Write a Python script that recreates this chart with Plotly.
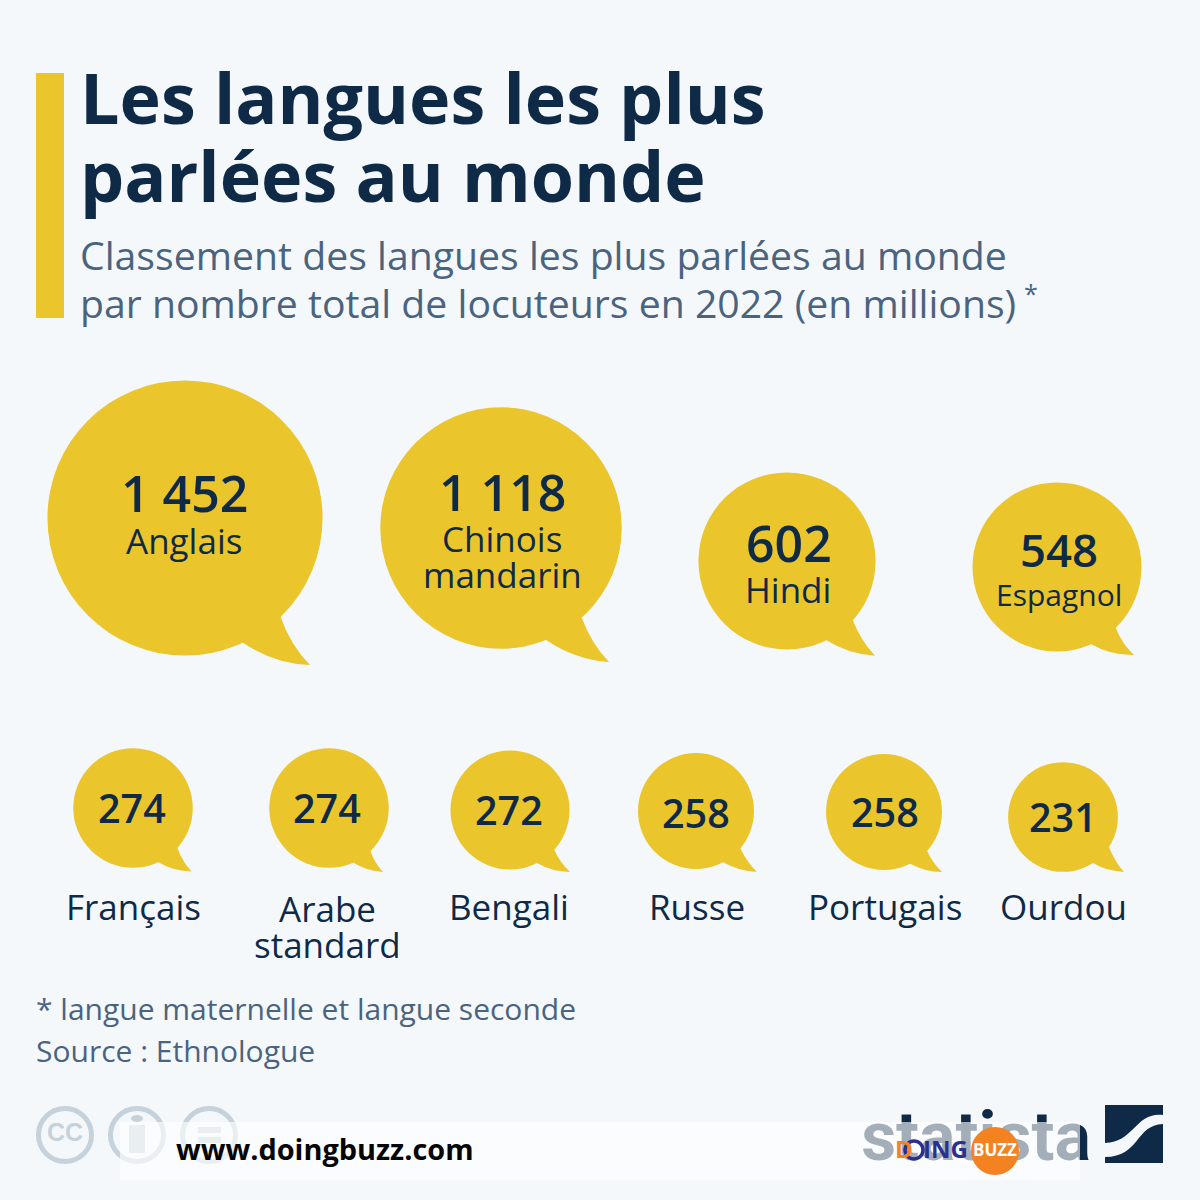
import math
import plotly.graph_objects as go

# ---------- data ----------
languages = ["Anglais", "Chinois<br>mandarin", "Hindi", "Espagnol", "Français",
             "Arabe<br>standard", "Bengali", "Russe", "Portugais", "Ourdou"]
speakers = [1452, 1118, 602, 548, 274, 274, 272, 258, 258, 231]

# ---------- layout of the bubbles (page pixels) ----------
center_x = [185, 501, 787, 1057, 133, 329, 510, 696, 884, 1063]
center_y = [518, 528, 561, 567, 808, 808, 810, 811, 812, 817]
num_dx = [-0.5, 1, 2, 2, -1, -2, -1, 0, 1, 0]
num_dy = [-24, -35, -17, -17, 1.5, 1.5, 1.5, 3, 1.5, 1.5]
num_size = [50, 50, 50, 45.5, 39.5, 39.5, 39.5, 39.5, 39.5, 39.5]
name_y = [542, 540, 591, 596, 908, 910, 908, 908, 908, 908]
name_size = [35, 35, 35, 30, 35, 35, 35, 35, 35, 35]
name_dx = [-1, 1, 1, 1.5, 0, -2, -1, 0.5, 1, 0]
LINE_STEP = 36
# tail geometry: attachment angles on the circle (deg) and tip offset in radii
tail_a = [46, 48, 42, 46, 42, 46, 42, 40, 42, 33]
tail_b = [65, 68, 63.5, 66, 65, 66, 63, 62, 63, 57]
tip_x = [0.909, 0.895, 0.993, 0.911, 0.98, 0.903, 1.008, 1.05, 1.0, 1.11]
tip_y = [1.069, 1.11, 1.07, 1.041, 1.065, 1.07, 1.042, 1.05, 1.034, 1.0]

YELLOW = "#ebc52c"
NAVY = "#0f2a47"
SLATE = "#4a6480"
BG = "#f5f8fb"
UNIT = 7.22          # bubble diameter per sqrt(value)
FONT = "Open Sans"


def fmt(v):
    return f"{v:,}".replace(",", " ")


shapes, ann = [], []


def text(x, y, s, size, color=NAVY, bold=False, anchor="center", family=FONT, weight=None):
    font = dict(family=family, size=size, color=color)
    if weight:
        font["weight"] = weight
    ann.append(dict(x=x, y=y - 1.5, xref="x", yref="y", text=f"<b>{s}</b>" if bold else s,
                    showarrow=False, xanchor=anchor, yanchor="middle", font=font))


def tail(cx, cy, r, a, b, tx, ty):
    p = lambda u, v: f"{cx + u * r:.1f},{cy + v * r:.1f}"
    ax, ay = math.cos(math.radians(a)), math.sin(math.radians(a))
    bx, by = math.cos(math.radians(b)), math.sin(math.radians(b))
    c1 = ((ax + tx) / 2 - 0.035, (ay + ty) / 2 + 0.03)
    c2 = ((bx + tx) / 2 - 0.025, (by + ty) / 2 + 0.07)
    return (f"M{p(0, 0)} L{p(ax, ay)} Q{p(*c1)} {p(tx, ty)} "
            f"Q{p(*c2)} {p(bx, by)} Z")


# header bar
shapes.append(dict(type="rect", x0=36, x1=64, y0=73, y1=318, fillcolor=YELLOW,
                   line_width=0, layer="below"))

# speech bubble tails
for i, v in enumerate(speakers):
    r = UNIT * math.sqrt(v) / 2
    shapes.append(dict(type="path", fillcolor=YELLOW, line_width=0, layer="below",
                       path=tail(center_x[i], center_y[i], r, tail_a[i], tail_b[i], tip_x[i], tip_y[i])))

# CC icons
ICON = "#c5d2db"
for ix in (65, 137, 209):
    shapes.append(dict(type="circle", x0=ix - 26.5, x1=ix + 26.5, y0=1108.5, y1=1161.5,
                       line=dict(color=ICON, width=5), layer="below"))
shapes.append(dict(type="circle", x0=131, x1=143, y0=1115, y1=1122, fillcolor=ICON,
                   line_width=0, layer="below"))
shapes.append(dict(type="rect", x0=129, x1=145, y0=1125, y1=1153, fillcolor=ICON,
                   line_width=0, layer="below"))
shapes.append(dict(type="rect", x0=198, x1=221, y0=1127, y1=1133, fillcolor=ICON,
                   line_width=0, layer="below"))
shapes.append(dict(type="rect", x0=198, x1=221, y0=1137, y1=1143, fillcolor=ICON,
                   line_width=0, layer="below"))

# Statista mark
shapes.append(dict(type="path", fillcolor=NAVY, line_width=0, layer="below",
                   path="M1105,1105 L1163,1105 L1163,1115 C1135,1112 1135,1142 1105,1143 Z"))
shapes.append(dict(type="path", fillcolor=NAVY, line_width=0, layer="below",
                   path="M1105,1157 C1140,1157 1135,1125 1163,1124 L1163,1163 L1105,1163 Z"))

# watermark band above everything except the watermark text
shapes.append(dict(type="rect", x0=120, x1=1080, y0=1122, y1=1180,
                   fillcolor="rgba(255,255,255,0.62)", line_width=0, layer="above"))
shapes.append(dict(type="circle", x0=971, x1=1019, y0=1127, y1=1175,
                   fillcolor="#f58220", line_width=0, layer="above"))
shapes.append(dict(type="circle", x0=905, x1=923, y0=1141, y1=1159,
                   line=dict(color="#2b2f8f", width=3.5), layer="above"))

# headings
text(78, 98, "Les langues les plus", 70, bold=True, anchor="left")
text(78, 176, "parlées au monde", 70, bold=True, anchor="left")
text(78, 256, "Classement des langues les plus parlées au monde", 39.2, SLATE, anchor="left")
text(78, 304, "par nombre total de locuteurs en 2022 (en millions)", 39.2, SLATE, anchor="left")
text(1031, 294, "*", 25, SLATE)

# bubble labels
for i, (v, nm) in enumerate(zip(speakers, languages)):
    text(center_x[i] + num_dx[i], center_y[i] + num_dy[i], fmt(v), num_size[i], weight=600)
    for k, part in enumerate(nm.split("<br>")):
        text(center_x[i] + name_dx[i], name_y[i] + k * LINE_STEP, part, name_size[i])

# footer
text(34, 1010, "* langue maternelle et langue seconde", 30, SLATE, anchor="left")
text(34, 1052, "Source : Ethnologue", 30, SLATE, anchor="left")

# watermark text
text(174, 1150, "www.doingbuzz.com", 28.9, "#050505", bold=True, anchor="left")
text(893, 1150, "D", 24, "#f58220", bold=True, anchor="left")
text(921, 1150, "ING", 24, "#2b2f8f", bold=True, anchor="left")
text(995, 1151, "BUZZ", 17, "white", bold=True)

fig = go.Figure()
fig.add_trace(go.Scatter(
    x=center_x, y=center_y, mode="markers", hoverinfo="skip",
    marker=dict(size=speakers, sizemode="area", sizeref=2 / UNIT ** 2,
                color=YELLOW, line_width=0, opacity=1)))
# Logo words and CC mark sit under the semi-transparent watermark band
fig.add_trace(go.Scatter(
    x=[976], y=[1143], mode="text", text=["<b>statista</b>"], hoverinfo="skip",
    textposition="middle center",
    textfont=dict(family="Roboto", size=68, color=NAVY)))
fig.add_trace(go.Scatter(
    x=[65], y=[1135], mode="text", text=["<b>CC</b>"], hoverinfo="skip",
    textposition="middle center",
    textfont=dict(family="Liberation Sans", size=25, color=ICON)))

fig.update_layout(
    width=1200, height=1200, margin=dict(l=0, r=0, t=0, b=0), autosize=False,
    paper_bgcolor=BG, plot_bgcolor=BG, showlegend=False,
    xaxis=dict(range=[0, 1200], visible=False, fixedrange=True),
    yaxis=dict(range=[1200, 0], visible=False, fixedrange=True),
    shapes=shapes, annotations=ann)

fig.write_html("out.html", config={"displayModeBar": False},
               post_script="document.body.style.margin='0';document.body.style.background='%s';" % BG)
